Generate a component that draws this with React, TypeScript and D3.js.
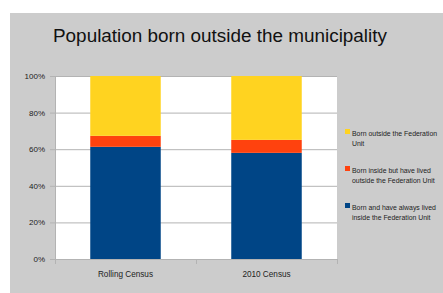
import React, { useRef, useEffect } from "react";
import * as d3 from "d3";

const categories = ["Rolling Census", "2010 Census"];
const seriesNames = [
  "Born and have always lived inside the Federation Unit",
  "Born inside but have lived outside the Federation Unit",
  "Born outside the Federation Unit",
];
// shares per category, bottom to top
const alwaysInside = [0.613, 0.58];
const livedOutside = [0.06, 0.071];
const bornOutside = [0.327, 0.349];
const yTicks = [0, 0.2, 0.4, 0.6, 0.8, 1];
const colors = ["#004586", "#ff420e", "#ffd320"];

// legend lines (top to bottom as drawn)
const legendLines = [
  ["Born outside the Federation", "Unit"],
  ["Born inside but have lived", "outside the Federation Unit"],
  ["Born and have always lived", "inside the Federation Unit"],
];

const App = () => {
  const svgRef = useRef<SVGSVGElement>(null);

  useEffect(() => {
    const svg = d3.select(svgRef.current);
    svg.selectAll("*").remove();
    const font = "'Liberation Sans', Arial, sans-serif";

    // background
    svg.append("rect").attr("x", 10).attr("y", 13).attr("width", 433).attr("height", 280).attr("fill", "#cccccc");

    svg
      .append("text")
      .attr("x", 220)
      .attr("y", 42)
      .attr("text-anchor", "middle")
      .attr("font-family", font)
      .attr("font-size", 18.9)
      .attr("fill", "#111")
      .text("Population born outside the municipality");

    const margin = { left: 55, right: 337, top: 76, bottom: 259 };

    const x = d3.scaleBand().domain(categories).range([margin.left, margin.right]).paddingInner(0).paddingOuter(0);
    const y = d3.scaleLinear().domain([0, 1]).range([margin.bottom, margin.top]);

    const g = svg.append("g");
    g.append("rect")
      .attr("x", margin.left)
      .attr("y", margin.top)
      .attr("width", margin.right - margin.left)
      .attr("height", margin.bottom - margin.top)
      .attr("fill", "#fff");

    // grid
    g.selectAll("line.grid")
      .data(yTicks)
      .join("line")
      .attr("x1", margin.left - 5)
      .attr("x2", margin.right)
      .attr("y1", (d) => y(d) + 0.5)
      .attr("y2", (d) => y(d) + 0.5)
      .attr("stroke", "#b3b3b3");

    // stacked bars
    const table = categories.map((c, i) => ({
      cat: c,
      s0: alwaysInside[i],
      s1: livedOutside[i],
      s2: bornOutside[i],
    }));
    const stack = d3.stack<any>().keys(["s0", "s1", "s2"])(table);
    const barW = x.bandwidth() * 0.5;

    g.selectAll("g.layer")
      .data(stack)
      .join("g")
      .attr("fill", (d, i) => colors[i])
      .selectAll("rect")
      .data((d) => d)
      .join("rect")
      .attr("x", (d: any) => x(d.data.cat)! + (x.bandwidth() - barW) / 2)
      .attr("y", (d) => y(Math.min(1, d[1])))
      .attr("width", barW)
      .attr("height", (d) => y(d[0]) - y(Math.min(1, d[1])));

    // axes
    g.append("line")
      .attr("x1", margin.left + 0.5)
      .attr("x2", margin.left + 0.5)
      .attr("y1", margin.top)
      .attr("y2", margin.bottom + 5)
      .attr("stroke", "#b3b3b3");
    g.append("line")
      .attr("x1", margin.left)
      .attr("x2", margin.right)
      .attr("y1", margin.bottom + 0.5)
      .attr("y2", margin.bottom + 0.5)
      .attr("stroke", "#b3b3b3");
    const xBounds = [margin.left, margin.left + x.bandwidth(), margin.right];
    g.selectAll("line.xt")
      .data(xBounds)
      .join("line")
      .attr("x1", (d) => d + 0.5)
      .attr("x2", (d) => d + 0.5)
      .attr("y1", margin.bottom)
      .attr("y2", margin.bottom + 5)
      .attr("stroke", "#b3b3b3");

    g.selectAll("text.yl")
      .data(yTicks)
      .join("text")
      .attr("x", 45)
      .attr("y", (d) => y(d) + 3)
      .attr("text-anchor", "end")
      .attr("font-family", font)
      .attr("font-size", 8)
      .attr("fill", "#222")
      .text((d) => d3.format(".0%")(d));

    g.selectAll("text.xl")
      .data(categories)
      .join("text")
      .attr("x", (d) => x(d)! + x.bandwidth() / 2)
      .attr("y", 277)
      .attr("text-anchor", "middle")
      .attr("font-family", font)
      .attr("font-size", 8.2)
      .attr("fill", "#222")
      .text((d) => d);

    // legend
    const legendY = [129, 166, 203];
    const legend = svg.append("g");
    legendLines.forEach((lines, i) => {
      legend
        .append("rect")
        .attr("x", 345)
        .attr("y", legendY[i])
        .attr("width", 5)
        .attr("height", 5)
        .attr("fill", colors[2 - i])
        .append("title")
        .text(seriesNames[2 - i]);
      lines.forEach((t, j) => {
        legend
          .append("text")
          .attr("x", 352)
          .attr("y", legendY[i] + 7 + j * 9.6)
          .attr("font-family", font)
          .attr("font-size", 6.9)
          .attr("fill", "#222")
          .text(t);
      });
    });
  }, []);

  return (
    <svg
      ref={svgRef}
      width={443}
      height={293}
      style={{ position: "absolute", left: 0, top: 0, display: "block" }}
    ></svg>
  );
};

export default App;
